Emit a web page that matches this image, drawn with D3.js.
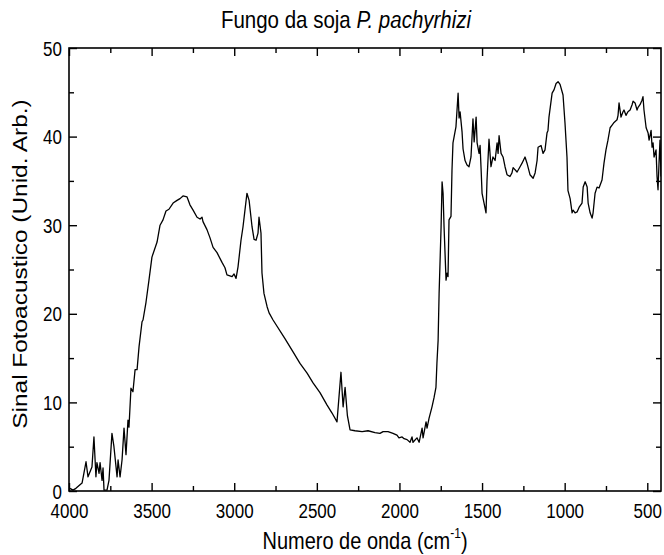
<!DOCTYPE html>
<html>
<head>
<meta charset="utf-8">
<script src="https://cdn.jsdelivr.net/npm/d3@7"></script>
<style>
  html, body { margin: 0; padding: 0; background: #fff; }
  svg { display: block; font-family: "Liberation Sans", Arial, sans-serif; }
</style>
</head>
<body>
<svg id="chart" width="664" height="555"></svg>
<script>
// Photoacoustic spectrum of the soybean rust fungus (wavenumber in cm^-1, signal in arb. units)
const wavenumber = [
  3994, 3976, 3958, 3921, 3897, 3885, 3861, 3849, 3837, 3831, 3818, 3812, 3800, 3794, 3788,
  3770, 3758, 3740, 3728, 3709, 3703, 3691, 3679, 3667, 3655, 3643, 3637, 3625, 3613, 3600,
  3588, 3576, 3558, 3552, 3534, 3516, 3498, 3467, 3449, 3431, 3413, 3395, 3370, 3346, 3328,
  3310, 3286, 3268, 3249, 3225, 3207, 3195, 3189, 3165, 3147, 3128, 3104, 3074, 3056, 3044,
  3013, 3001, 2989, 2977, 2959, 2947, 2935, 2923, 2910, 2892, 2880, 2868, 2856, 2850, 2838,
  2832, 2820, 2801, 2789, 2765, 2693, 2644, 2602, 2559, 2523, 2481, 2438, 2408, 2378, 2354,
  2341, 2329, 2315, 2299, 2269, 2226, 2190, 2148, 2118, 2099, 2069, 2039, 2015, 2003, 1984,
  1972, 1954, 1936, 1924, 1918, 1894, 1881, 1863, 1857, 1839, 1833, 1821, 1803, 1791, 1779,
  1773, 1766, 1760, 1748, 1742, 1736, 1730, 1718, 1712, 1706, 1700, 1688, 1682, 1676, 1664,
  1658, 1645, 1639, 1633, 1621, 1615, 1603, 1591, 1579, 1567, 1555, 1548, 1536, 1530, 1518,
  1512, 1506, 1500, 1488, 1476, 1470, 1458, 1446, 1434, 1421, 1409, 1403, 1397, 1385, 1373,
  1361, 1349, 1331, 1319, 1312, 1288, 1270, 1258, 1240, 1228, 1210, 1191, 1179, 1167, 1161,
  1143, 1131, 1119, 1107, 1101, 1095, 1076, 1064, 1052, 1040, 1028, 1010, 998, 986, 980,
  967, 955, 949, 937, 925, 913, 895, 888, 876, 864, 858, 846, 834, 828, 816,
  804, 792, 774, 762, 750, 738, 725, 713, 701, 683, 677, 671, 659, 647, 641,
  629, 617, 604, 592, 586, 574, 562, 556, 544, 532, 526, 520, 507, 495, 489,
  477, 471, 465, 459, 447, 441, 435, 429, 423, 417
];
const signal = [
  0.3, 0.1, 0.3, 0.9, 3.3, 1.6, 2.7, 6.1, 1.6, 3.2, 2.0, 3.2, 1.2, 2.6, 0.1,
  0.1, 1.2, 6.5, 5.0, 1.6, 3.5, 1.6, 3.5, 7.1, 4.1, 8.0, 7.2, 11.6, 11.2, 13.7,
  13.7, 16.3, 19.1, 19.3, 21.3, 23.8, 26.4, 28.1, 30.0, 30.6, 31.6, 31.8, 32.5, 32.8, 33.0,
  33.3, 33.2, 32.3, 31.7, 30.9, 30.7, 30.9, 30.4, 29.5, 28.6, 27.5, 26.9, 25.8, 25.2, 24.4,
  24.2, 24.5, 24.0, 25.3, 28.3, 29.8, 31.7, 33.6, 32.8, 29.8, 28.4, 28.3, 29.1, 30.9, 29.1,
  24.6, 22.3, 20.8, 20.1, 19.3, 17.2, 15.7, 14.4, 13.3, 12.2, 11.1, 9.7, 8.8, 7.8, 13.4,
  9.5, 11.7, 8.5, 6.9, 6.8, 6.7, 6.8, 6.6, 6.5, 6.7, 6.7, 6.5, 6.3, 6.0, 6.1,
  5.9, 5.8, 5.5, 6.1, 5.5, 6.0, 5.5, 7.1, 6.0, 7.8, 7.1, 8.2, 9.5, 10.5, 11.7,
  14.5, 17.0, 22.3, 29.8, 34.9, 33.6, 29.8, 23.8, 24.6, 24.2, 30.6, 31.0, 36.2, 39.3, 40.5,
  41.1, 44.9, 42.1, 42.8, 40.5, 38.6, 37.3, 36.8, 36.6, 37.7, 42.0, 39.4, 42.2, 39.3, 38.1,
  39.0, 36.4, 33.6, 32.5, 31.4, 35.1, 39.7, 36.6, 37.7, 37.3, 39.3, 38.1, 40.1, 38.1, 37.7,
  36.6, 35.7, 35.5, 35.9, 36.5, 36.0, 36.6, 37.0, 37.7, 37.0, 35.7, 35.3, 35.9, 37.3, 38.8,
  39.0, 38.1, 38.5, 40.4, 40.7, 42.2, 44.9, 45.3, 46.0, 46.2, 45.9, 44.7, 41.5, 37.7, 33.9,
  33.0, 31.4, 31.7, 31.4, 31.5, 32.0, 32.5, 34.3, 34.9, 34.3, 32.5, 31.4, 30.8, 31.4, 33.6,
  34.3, 34.2, 35.1, 37.0, 38.5, 39.6, 41.0, 41.3, 41.6, 41.9, 42.4, 43.8, 42.2, 42.8, 43.0,
  42.4, 42.8, 43.0, 43.6, 44.0, 43.8, 43.0, 43.3, 43.6, 44.1, 44.5, 43.0, 41.0, 40.4, 39.6,
  40.7, 38.8, 39.3, 37.7, 38.5, 35.5, 34.0, 37.0, 39.6, 35.5
];

const xMajorTicks = [4000, 3500, 3000, 2500, 2000, 1500, 1000, 500];
const xMinorTicks = [3750, 3250, 2750, 2250, 1750, 1250, 750];
const yMajorTicks = [0, 10, 20, 30, 40, 50];
const yMinorTicks = [5, 15, 25, 35, 45];

const titlePlain = "Fungo da soja ";
const titleItalic = "P. pachyrhizi";
const xLabel = "Numero de onda (cm";
const xLabelSup = "-1";
const yLabel = "Sinal Fotoacustico (Unid. Arb.)";

const plot = { left: 69, right: 661, top: 48, bottom: 491 };
const textStretch = 1.18;   // glyphs are drawn slightly taller than wide

const svg = d3.select("#chart");

const x = d3.scaleLinear().domain([4000, 417]).range([plot.left, plot.right]);
const y = d3.scaleLinear().domain([0, 50]).range([plot.bottom, plot.top]);

const data = wavenumber.map((w, i) => ({ w, s: signal[i] }));

// clip the trace to the frame
svg.append("defs").append("clipPath").attr("id", "plot-clip")
  .append("rect")
  .attr("x", plot.left).attr("y", plot.top)
  .attr("width", plot.right - plot.left).attr("height", plot.bottom - plot.top);

const tickFont = 17;
const majorLen = 8, minorLen = 5;

function styleAxis(g) {
  g.select(".domain").remove();
  g.selectAll(".tick line").attr("stroke", "#000").attr("stroke-width", 1.4);
  g.selectAll(".tick text").attr("fill", "#000")
    .style("font-size", tickFont + "px")
    .style("font-family", "'Liberation Sans', Arial, sans-serif");
}

// bottom axis: labelled major ticks pointing inward
svg.append("g")
  .attr("transform", `translate(0,${plot.bottom})`)
  .call(d3.axisBottom(x).tickValues(xMajorTicks).tickSizeInner(-majorLen).tickSizeOuter(0)
    .tickFormat(d3.format("d")))
  .call(styleAxis)
  .call(g => g.selectAll(".tick text")
    .attr("y", null).attr("dy", null)
    .attr("transform", `translate(0,27) scale(1,${textStretch})`));
svg.append("g")
  .attr("transform", `translate(0,${plot.bottom})`)
  .call(d3.axisBottom(x).tickValues(xMinorTicks).tickSizeInner(-minorLen).tickSizeOuter(0).tickFormat(""))
  .call(styleAxis);

// top axis: mirrored ticks without labels
svg.append("g")
  .attr("transform", `translate(0,${plot.top})`)
  .call(d3.axisTop(x).tickValues(xMajorTicks).tickSizeInner(-majorLen).tickSizeOuter(0).tickFormat(""))
  .call(styleAxis);
svg.append("g")
  .attr("transform", `translate(0,${plot.top})`)
  .call(d3.axisTop(x).tickValues(xMinorTicks).tickSizeInner(-minorLen).tickSizeOuter(0).tickFormat(""))
  .call(styleAxis);

// left axis
svg.append("g")
  .attr("transform", `translate(${plot.left},0)`)
  .call(d3.axisLeft(y).tickValues(yMajorTicks).tickSizeInner(-majorLen).tickSizeOuter(0)
    .tickFormat(d3.format("d")))
  .call(styleAxis)
  .call(g => g.selectAll(".tick text")
    .attr("x", null).attr("dy", null)
    .attr("transform", `translate(-7,7) scale(1,${textStretch})`));
svg.append("g")
  .attr("transform", `translate(${plot.left},0)`)
  .call(d3.axisLeft(y).tickValues(yMinorTicks).tickSizeInner(-minorLen).tickSizeOuter(0).tickFormat(""))
  .call(styleAxis);

// right axis: mirrored ticks
svg.append("g")
  .attr("transform", `translate(${plot.right},0)`)
  .call(d3.axisRight(y).tickValues(yMajorTicks).tickSizeInner(-majorLen).tickSizeOuter(0).tickFormat(""))
  .call(styleAxis);
svg.append("g")
  .attr("transform", `translate(${plot.right},0)`)
  .call(d3.axisRight(y).tickValues(yMinorTicks).tickSizeInner(-minorLen).tickSizeOuter(0).tickFormat(""))
  .call(styleAxis);

// spectrum trace
svg.append("path")
  .datum(data)
  .attr("clip-path", "url(#plot-clip)")
  .attr("fill", "none")
  .attr("stroke", "#000")
  .attr("stroke-width", 1.3)
  .attr("stroke-linejoin", "round")
  .attr("d", d3.line().x(d => x(d.w)).y(d => y(d.s)));

// frame
svg.append("rect")
  .attr("x", plot.left).attr("y", plot.top)
  .attr("width", plot.right - plot.left).attr("height", plot.bottom - plot.top)
  .attr("fill", "none").attr("stroke", "#000").attr("stroke-width", 1.6);

// title
const title = svg.append("text")
  .attr("transform", `translate(346,28) scale(1,${textStretch})`)
  .attr("text-anchor", "middle")
  .style("font-size", "20.5px")
  .attr("fill", "#000");
title.append("tspan").text(titlePlain);
title.append("tspan").style("font-style", "italic").text(titleItalic);

// x-axis label with superscript
const xl = svg.append("text")
  .attr("transform", `translate(${(plot.left + plot.right) / 2},549) scale(1,${textStretch})`)
  .attr("text-anchor", "middle")
  .style("font-size", "20px")
  .attr("fill", "#000");
xl.append("tspan").text(xLabel);
xl.append("tspan").attr("dy", -9).style("font-size", "12px").text(xLabelSup);
xl.append("tspan").attr("dy", 9).text(")");

// y-axis label, stretched along its length like the other glyphs
svg.append("text")
  .attr("transform", `translate(27,264) scale(1,1.22) rotate(-90)`)
  .attr("text-anchor", "middle")
  .style("font-size", "20px")
  .attr("fill", "#000")
  .text(yLabel);
</script>
</body>
</html>
